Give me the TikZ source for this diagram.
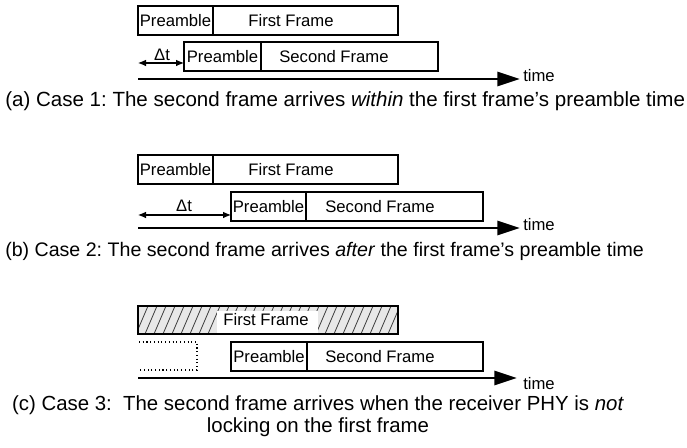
\documentclass[tikz,border=0pt]{standalone}
\usepackage{fontspec}
\setmainfont{Liberation Sans}
\usetikzlibrary{arrows.meta}
\frenchspacing
\begin{document}
\begin{tikzpicture}[x=0.75pt,y=-0.75pt,
  frame/.style={draw, line width=0.8pt},
  lbl/.style={font=\fontsize{12.5}{15}\selectfont, inner sep=0pt},
  timelbl/.style={font=\fontsize{12.5}{15}\selectfont, inner sep=0pt},
  axis/.style={line width=2.2pt, -{Triangle[length=17pt,width=10.5pt]}},
  gap/.style={line width=0.8pt, {Latex[length=6pt,width=5pt]}-{Latex[length=6pt,width=5pt]}},
  caption/.style={inner sep=0pt},
]
\useasboundingbox (0,0) rectangle (687,448);

% ---------- (a) second frame within preamble ----------
\draw[frame] (138,6) rectangle (398,35);
\draw[frame] (213,6) -- (213,35);
\node[lbl] (a1p) at (175.5,20.5) {Preamble};
\node[lbl] (a1f) at (291,20.5) {First Frame};

\draw[frame] (184,42) rectangle (438,71);
\draw[frame] (261,42) -- (261,71);
\node[lbl] (a2p) at (222.5,56.5) {Preamble};
\node[lbl] (a2f) at (334,56.5) {Second Frame};

\coordinate (adl) at (138,63);
\coordinate (adr) at (184,63);
\draw[gap] (adl) -- (adr);
\node[lbl] (adt) at (162,55) {Δt};

\coordinate (a0) at (138,79);
\coordinate (a1) at (520,79);
\draw[axis] (a0) -- (a1);
\node[timelbl, anchor=west] (atime) at (523,76) {time};

\node[caption, anchor=west, font=\fontsize{15.4}{18}\selectfont] (acap) at (5,101)
  {(a) Case 1: The second frame arrives \textit{within} the first frame’s preamble time};

% ---------- (b) second frame after preamble ----------
\draw[frame] (138,155) rectangle (398,184);
\draw[frame] (213,155) -- (213,184);
\node[lbl] (b1p) at (175.5,169.5) {Preamble};
\node[lbl] (b1f) at (291,169.5) {First Frame};

\draw[frame] (231,192) rectangle (483,221);
\draw[frame] (306,192) -- (306,221);
\node[lbl] (b2p) at (268.5,206.5) {Preamble};
\node[lbl] (b2f) at (380,206.5) {Second Frame};

\coordinate (bdl) at (138,215);
\coordinate (bdr) at (231,215);
\draw[gap] (bdl) -- (bdr);
\node[lbl] (bdt) at (184,206) {Δt};

\coordinate (b0) at (138,228);
\coordinate (b1) at (520,228);
\draw[axis] (b0) -- (b1);
\node[timelbl, anchor=west] (btime) at (523,225) {time};

\node[caption, anchor=west, font=\fontsize{14.7}{18}\selectfont] (bcap) at (5,251)
  {(b) Case 2: The second frame arrives \textit{after} the first frame’s preamble time};

% ---------- (c) receiver not locked ----------
\begin{scope}
  \clip (138,306) rectangle (398,334);
  \fill[gray!18] (138,306) rectangle (398,334);
  \foreach \x in {100,109,...,420}
    \draw[gray!50!black, line width=0.6pt] (\x,334) -- (\x+12,306);
\end{scope}
\draw[frame] (138,306) rectangle (398,334);
\fill[white] (217,311) rectangle (318,333);
\node[lbl] (c1f) at (266,320) {First Frame};

\draw[line width=0.8pt, dotted] (139,342) -- (197,342) -- (197,370) -- (139,370);

\draw[frame] (231,342) rectangle (483,371);
\draw[frame] (307,342) -- (307,371);
\node[lbl] (c2p) at (269,356.5) {Preamble};
\node[lbl] (c2f) at (380,356.5) {Second Frame};

\coordinate (c0) at (138,378);
\coordinate (c1) at (517,378);
\draw[axis] (c0) -- (c1);
\node[timelbl, anchor=west] (ctime) at (523,384) {time};

\node[caption, align=center, font=\fontsize{15.3}{16.5}\selectfont] (ccap) at (318,416)
  {(c) Case 3:\ \ The second frame arrives when the receiver PHY is \textit{not}\\
   locking on the first frame};
\end{tikzpicture}
\end{document}
